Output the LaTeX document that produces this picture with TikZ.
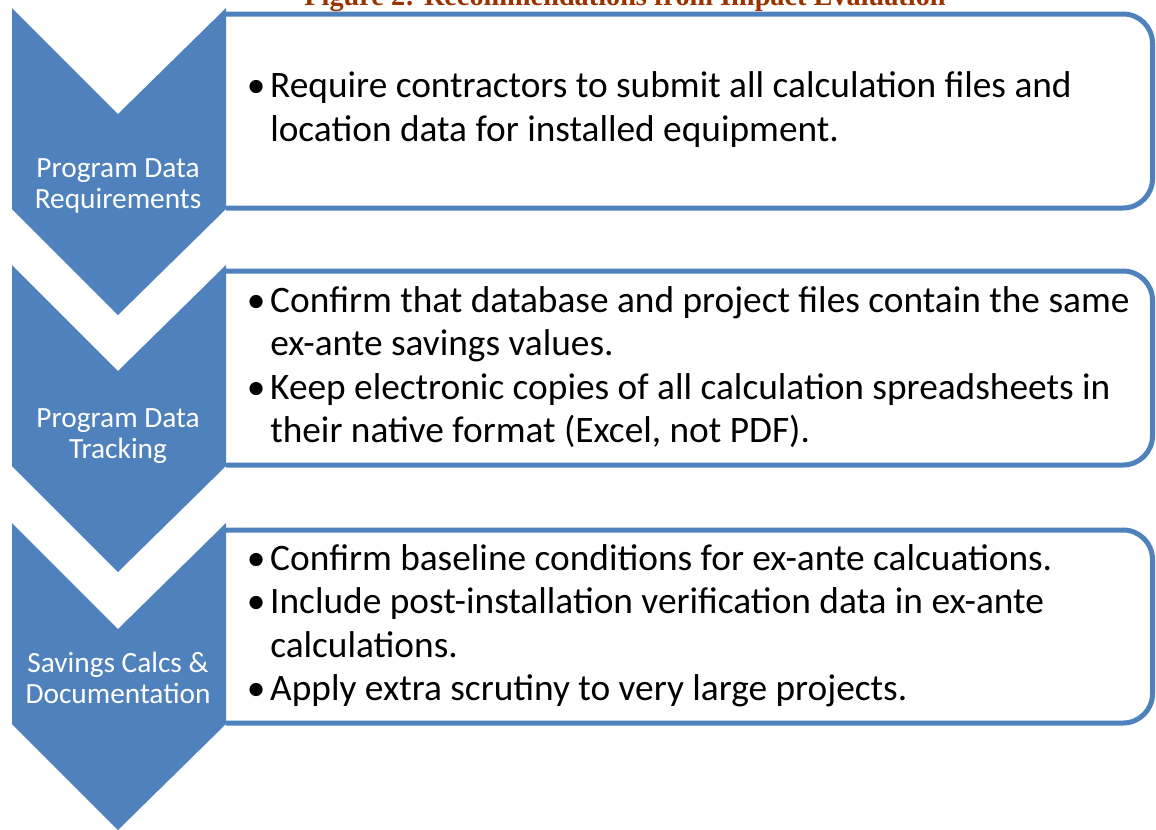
\documentclass[tikz,border=0pt]{standalone}
\usepackage{fontspec}
\setmainfont{Carlito}
\newfontfamily\titlefont{Liberation Serif}
\definecolor{chevblue}{HTML}{4F81BD}
\definecolor{titlered}{RGB}{153,51,0}
\newcommand{\recbullet}{\makebox[15pt][l]{\hspace{-2.5pt}\textbullet}}
\begin{document}
\begin{tikzpicture}[x=0.75pt,y=-0.75pt,
    chev/.style={fill=chevblue},
    recbox/.style={draw=chevblue, line width=3.75pt, fill=white, rounded corners=22pt},
    chevlabel/.style={text=white, align=center, font=\fontsize{22}{23.5}\selectfont, inner sep=0pt},
    rectext/.style={anchor=west, inner sep=0pt, font=\fontsize{28}{32.6}\selectfont}]
    \useasboundingbox (0,0) rectangle (1156,829);
    \clip (0,0) rectangle (1156,829);
    
    \node[anchor=base, font=\titlefont\bfseries\fontsize{21.2}{24}\selectfont, text=titlered] (title) at (625,5) {Figure 2: Recommendations from Impact Evaluation};
    
    \draw[recbox] (226,14) -- (1152.5,14) -- (1152.5,208) -- (226,208);
    \draw[recbox] (226,271) -- (1152.5,271) -- (1152.5,465) -- (226,465);
    \draw[recbox] (226,530) -- (1152.5,530) -- (1152.5,723) -- (226,723);
    
    \foreach \top in {8,265,523}
        \fill[chev] (12,\top) -- (118,\top+106) -- (226,\top) -- (226,\top+201)
            -- (118,\top+307) -- (12,\top+201) -- cycle;
    
    \node[chevlabel] (label1) at (118,186) {Program Data\\Requirements};
    \node[chevlabel] (label2) at (118,436) {Program Data\\Tracking};
    \node[chevlabel] (label3) at (118,678) {Savings Calcs \&\\Documentation};
    
    \node[rectext] (recs1) at (250,111) {\begin{tabular}{@{}l@{}l@{}}
        \recbullet & Require contractors to submit all calculation files and\\
        & location data for installed equipment.
    \end{tabular}};
    \node[rectext] (recs2) at (250,369) {\begin{tabular}{@{}l@{}l@{}}
        \recbullet & Confirm that database and project files contain the same\\
        & ex-ante savings values.\\
        \recbullet & Keep electronic copies of all calculation spreadsheets in\\
        & their native format (Excel, not PDF).
    \end{tabular}};
    \node[rectext] (recs3) at (250,627) {\begin{tabular}{@{}l@{}l@{}}
        \recbullet & Confirm baseline conditions for ex-ante calcuations.\\
        \recbullet & Include post-installation verification data in ex-ante\\
        & calculations.\\
        \recbullet & Apply extra scrutiny to very large projects.
    \end{tabular}};
\end{tikzpicture}
\end{document}
